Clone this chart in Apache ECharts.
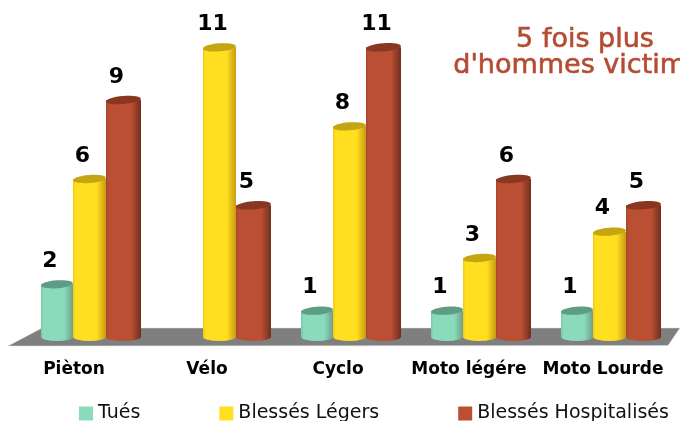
<!DOCTYPE html>
<html>
<head>
<meta charset="utf-8">
<style>html,body{margin:0;padding:0;background:#fff}#pageEcharts{width:680px;height:421px}</style>
<script src="https://cdn.jsdelivr.net/npm/echarts@6/dist/echarts.min.js"></script>
</head>
<body>
<div id="pageEcharts"></div>
<script>
var categories = ['Pièton', 'Vélo', 'Cyclo', 'Moto légére', 'Moto Lourde'];
var tues = [2, null, 1, 1, 1];
var blessesLegers = [6, 11, 8, 3, 4];
var blessesHospitalises = [9, 5, 11, 6, 5];

var FONT = '"DejaVu Sans"';
var labelShift = [32, 26, 24, 22, 14]; // tick labels sit left of the groups

// one cylinder: gradient body, darker top ellipse, value above
function cylinder(offset, width, colors) {
    return function (params, api) {
        var value = api.value(1);
        if (isNaN(value)) return null;
        var top = api.coord([api.value(0), value]);
        var base = api.coord([api.value(0), 0]);
        var x = top[0] + offset;
        var ry = 4;
        var rx = width / 2;
        var body = 'M' + x + ' ' + top[1] + 'L' + (x + width) + ' ' + top[1] +
            'L' + (x + width) + ' ' + base[1] +
            'A' + rx + ' ' + ry + ' 0 0 1 ' + x + ' ' + base[1] + 'Z';
        return {
            type: 'group',
            children: [{
                type: 'path',
                shape: { pathData: body },
                style: {
                    fill: new echarts.graphic.LinearGradient(0, 0, 1, 0, [
                        { offset: 0, color: colors[3] },
                        { offset: 0.08, color: colors[0] },
                        { offset: 0.72, color: colors[0] },
                        { offset: 1, color: colors[2] }
                    ])
                }
            }, {
                type: 'ellipse',
                shape: { cx: x + rx, cy: top[1], rx: rx, ry: ry },
                rotation: 0.08,
                originX: x + rx,
                originY: top[1],
                style: { fill: colors[1] }
            }, {
                type: 'text',
                x: x + rx - 7,
                y: top[1] - 23,
                style: {
                    text: String(value),
                    fill: '#000',
                    font: 'bold 22px ' + FONT,
                    align: 'center',
                    verticalAlign: 'middle'
                }
            }]
        };
    };
}

function makeSeries(name, values, offset, width, colors) {
    return {
        name: name,
        type: 'custom',
        itemStyle: { color: colors[0] },
        encode: { x: 0, y: 1 },
        renderItem: cylinder(offset, width, colors),
        data: values.map(function (v, i) { return [i, v]; }),
        z: 3
    };
}

var myChart = echarts.init(document.getElementById("pageEcharts"));
var option = {
    animation: false,
    title: {
        text: "5 fois plus\nd'hommes victimes",
        left: 580,
        top: 22,
        textAlign: 'center',
        textStyle: {
            color: '#b54b32',
            fontFamily: FONT,
            fontWeight: 'normal',
            fontSize: 27,
            lineHeight: 26,
            textBorderColor: '#b54b32',
            textBorderWidth: 0.6
        }
    },
    grid: { left: 25, right: 5, top: 21, bottom: 84 },
    xAxis: {
        type: 'category',
        data: categories.map(function (c, i) {
            return { value: c, textStyle: { padding: [0, labelShift[i], 0, 0] } };
        }),
        axisLine: { show: false },
        axisTick: { show: false },
        axisLabel: {
            interval: 0,
            margin: 24,
            color: '#000',
            fontFamily: FONT,
            fontWeight: 'bold',
            fontSize: 17
        }
    },
    yAxis: { type: 'value', min: 0, max: 12, show: false },
    legend: {
        left: 79,
        top: 404,
        padding: 0,
        itemGap: 79,
        itemWidth: 14,
        itemHeight: 14,
        icon: 'rect',
        data: ['Tués', 'Blessés Légers', 'Blessés Hospitalisés'],
        textStyle: { color: '#111', fontFamily: FONT, fontSize: 19 }
    },
    graphic: [{
        type: 'polygon',
        z: 0,
        shape: { points: [[8, 346], [42, 328], [680, 328], [668, 345.5]] },
        style: { fill: '#7f7f7f', stroke: '#dcdcdc', lineWidth: 0.5 }
    }],
    series: [
        makeSeries('Tués', tues, -49, 32, ['#8adbbb', '#5f9c85', '#6f9f8c', '#7cc5a8']),
        makeSeries('Blessés Légers', blessesLegers, -17, 33, ['#ffdf1f', '#c4a512', '#c99a12', '#f0c818']),
        makeSeries('Blessés Hospitalisés', blessesHospitalises, 16, 35, ['#ba4f33', '#8a3722', '#6f2e1e', '#a8472e'])
    ]
};
myChart.setOption(option);
</script>
</body>
</html>
